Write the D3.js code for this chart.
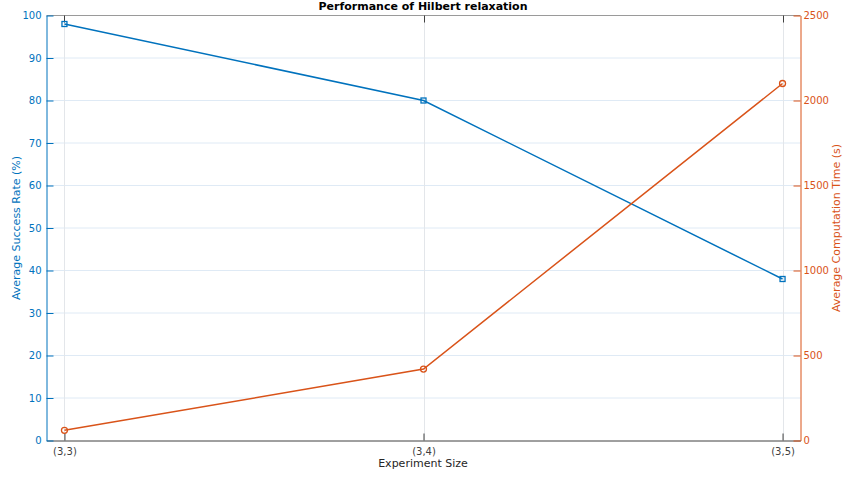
<!DOCTYPE html>
<html><head><meta charset="utf-8">
<script src="https://cdn.jsdelivr.net/npm/d3@7"></script>
<style>body{margin:0;background:#fff;} text{font-family:"DejaVu Sans",sans-serif;}</style>
</head><body>
<svg id="c" width="844" height="479"></svg>
<script>
const categories = ["(3,3)", "(3,4)", "(3,5)"];
const successRate = [98, 80, 38];
const computeTime = [60, 420, 2100];
const leftTicks = [0,10,20,30,40,50,60,70,80,90,100];
const rightTicks = [0,500,1000,1500,2000,2500];

const blue = "#0072BD", orange = "#D95319";
const svg = d3.select("#c");
const L = 46.5, R = 800.5, T = 15.5, B = 440.5;
const x = d3.scaleLinear().domain([-0.05, 2.05]).range([L, R]);
const yL = d3.scaleLinear().domain([0,100]).range([B, T]);
const yR = d3.scaleLinear().domain([0,2500]).range([B, T]);

// grid
const g = svg.append("g");
g.selectAll(".hg").data(leftTicks.slice(1, -1)).join("line")
  .attr("x1", L).attr("x2", R).attr("y1", d=>yL(d)).attr("y2", d=>yL(d))
  .attr("stroke", "#dfeaf5").attr("stroke-width", 1);
g.selectAll(".vg").data(categories).join("line")
  .attr("x1", (d,i)=>Math.round(x(i))+0.5).attr("x2", (d,i)=>Math.round(x(i))+0.5)
  .attr("y1", T).attr("y2", B)
  .attr("stroke", "#e3e6ea").attr("stroke-width", 1);

// top border
svg.append("line").attr("x1", L).attr("x2", R).attr("y1", T).attr("y2", T)
  .attr("stroke", "#9a9a9a").attr("stroke-width", 1);
// top ticks
svg.selectAll(".tt").data(categories).join("line")
  .attr("x1", (d,i)=>Math.round(x(i))+0.5).attr("x2", (d,i)=>Math.round(x(i))+0.5)
  .attr("y1", T).attr("y2", T+7).attr("stroke", "#404040");

// bottom axis
const xAxis = d3.axisBottom(x).tickValues([0,1,2]).tickFormat(i=>categories[i])
  .tickSizeInner(-7).tickSizeOuter(0).tickPadding(7);
const xa = svg.append("g").attr("transform", `translate(0,${B})`).call(xAxis);
xa.select(".domain").attr("stroke", "#404040");
xa.selectAll(".tick line").attr("stroke", "#404040");
xa.selectAll(".tick text").attr("fill", "#404040").attr("font-size", 10);

// left axis
const la = svg.append("g").attr("transform", `translate(${L},0)`)
  .call(d3.axisLeft(yL).tickValues(leftTicks).tickSizeInner(-7).tickSizeOuter(0).tickPadding(5));
la.select(".domain").attr("stroke", blue);
la.selectAll(".tick line").attr("stroke", blue);
la.selectAll(".tick text").attr("fill", blue).attr("font-size", 10);

// right axis
const ra = svg.append("g").attr("transform", `translate(${R},0)`)
  .call(d3.axisRight(yR).tickValues(rightTicks).tickFormat(d3.format("d"))
    .tickSizeInner(-7).tickSizeOuter(0).tickPadding(3));
ra.select(".domain").attr("stroke", orange);
ra.selectAll(".tick line").attr("stroke", orange);
ra.selectAll(".tick text").attr("fill", orange).attr("font-size", 10);

// lines
const lineL = d3.line().x((d,i)=>x(i)).y(d=>yL(d));
const lineR = d3.line().x((d,i)=>x(i)).y(d=>yR(d));
svg.append("path").datum(successRate).attr("d", lineL).attr("fill","none")
  .attr("stroke", blue).attr("stroke-width", 1.5);
svg.append("path").datum(computeTime).attr("d", lineR).attr("fill","none")
  .attr("stroke", orange).attr("stroke-width", 1.5);

svg.selectAll(".mL").data(successRate).join("rect")
  .attr("x", (d,i)=>x(i)-2.5).attr("y", d=>yL(d)-2.5).attr("width",5).attr("height",5)
  .attr("fill","none").attr("stroke", blue).attr("stroke-width", 1.3);
svg.selectAll(".mR").data(computeTime).join("circle")
  .attr("cx", (d,i)=>x(i)).attr("cy", d=>yR(d)).attr("r", 3)
  .attr("fill","none").attr("stroke", orange).attr("stroke-width", 1.3);

// labels
svg.append("text").attr("x", 423).attr("y", 10).attr("text-anchor","middle")
  .attr("font-size", 11).attr("font-weight","bold").attr("fill","#000")
  .text("Performance of Hilbert relaxation");
svg.append("text").attr("x", 423).attr("y", 467).attr("text-anchor","middle")
  .attr("font-size", 11).attr("fill","#262626").text("Experiment Size");
svg.append("text").attr("transform", `translate(20,${(T+B)/2}) rotate(-90)`)
  .attr("text-anchor","middle").attr("font-size", 11).attr("fill", blue)
  .text("Average Success Rate (%)");
svg.append("text").attr("transform", `translate(840,${(T+B)/2}) rotate(-90)`)
  .attr("text-anchor","middle").attr("font-size", 11).attr("fill", orange)
  .text("Average Computation Time (s)");
</script>
</body></html>
